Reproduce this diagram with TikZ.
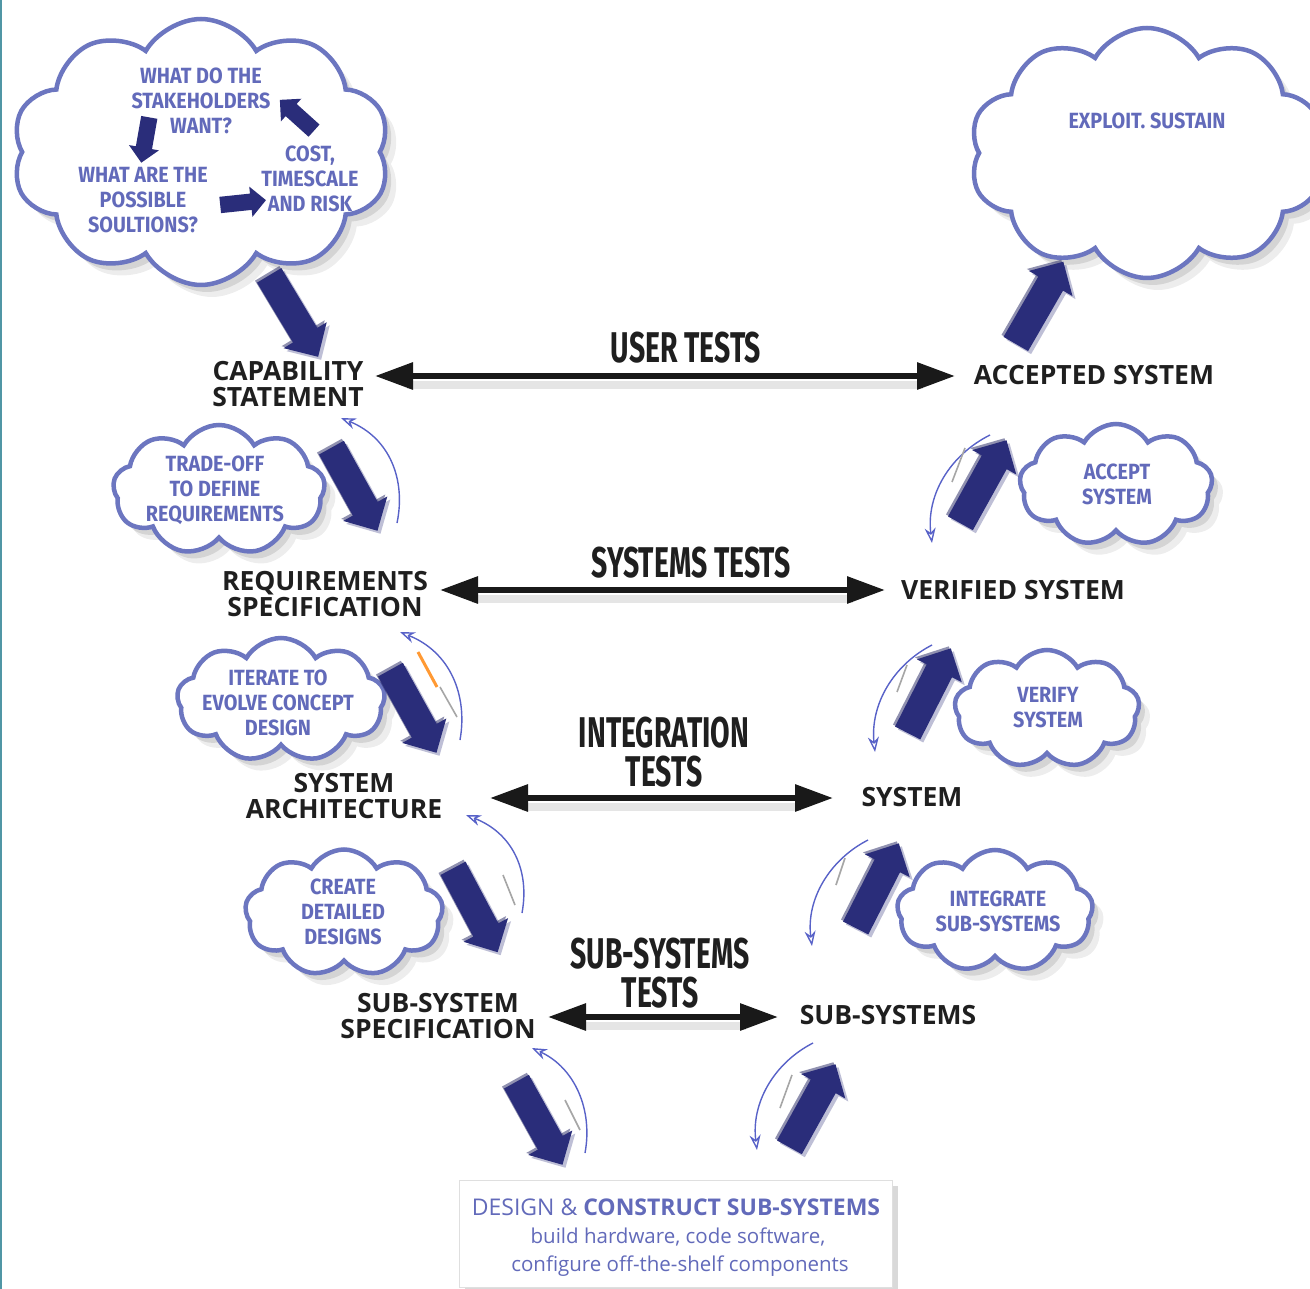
\documentclass[tikz,border=0pt]{standalone}
\usepackage{fontspec}
\setmainfont{Open Sans}
\newfontfamily\labfont{Open Sans}
\newfontfamily\headfont{Fira Sans}[FakeStretch=0.66]
\newfontfamily\cloudfnt{Fira Sans}[FakeStretch=0.9]
\usetikzlibrary{shapes.symbols,shapes.arrows,arrows.meta,shadows}
\definecolor{cloudblue}{RGB}{108,118,192}
\definecolor{ctext}{RGB}{98,106,186}
\definecolor{navyarr}{RGB}{42,45,122}
\definecolor{arcblue}{RGB}{88,98,200}
\definecolor{edgeteal}{RGB}{80,150,165}
\begin{document}
\begin{tikzpicture}[x=1pt,y=-1pt,
  softshadow/.style={drop shadow={shadow xshift=6pt,shadow yshift=-7pt,opacity=0.10,fill=black},
                     drop shadow={shadow xshift=11pt,shadow yshift=-12pt,opacity=0.07,fill=black}},
  cloudbox/.style={cloud, cloud puffs=10, cloud puff arc=120, cloud ignores aspect,
     draw=cloudblue, line width=4.5pt, fill=white, inner sep=0pt, softshadow},
  cloudtxt/.style={font=\cloudfnt\bfseries\fontsize{22}{25}\selectfont, text=ctext, align=center, inner sep=0pt},
  label/.style={font=\labfont\bfseries\fontsize{26.5}{26.5}\selectfont, text=black!88, align=center, inner sep=6pt},
  testlbl/.style={font=\headfont\bfseries\fontsize{43}{39}\selectfont, text=black!88, align=center, inner sep=0pt},
  dbl/.style={line width=6pt, black!90, {Triangle[length=38pt,width=26pt]}-{Triangle[length=38pt,width=26pt]}},
  dblshadow/.style={line width=8pt, black!10},
  bigarr/.style={single arrow, fill=navyarr, minimum height=95pt, minimum width=50pt,
     single arrow head extend=11pt, single arrow head indent=0pt, inner xsep=0pt, inner ysep=14pt,
     drop shadow={shadow xshift=3pt,shadow yshift=-3pt,opacity=0.3,fill=navyarr},
     drop shadow={shadow xshift=-2pt,shadow yshift=2pt,opacity=0.5,fill=navyarr!80!black}},
  smallarr/.style={single arrow, fill=navyarr, minimum height=46pt, minimum width=30pt,
     single arrow head extend=7pt, single arrow head indent=0pt, inner xsep=0pt, inner ysep=8pt},
  arcarr/.style={draw=arcblue, line width=1.4pt, -{Stealth[open,length=15pt,width=11pt]}},
  slash/.style={draw=gray!70, line width=1.6pt},
  boxtxt/.style={text=ctext, align=center, inner sep=0pt}
]
\useasboundingbox[fill=white] (0,0) rectangle (1310,1289);
\draw[edgeteal, line width=2.5pt] (1,0) -- (1,1289);

% ---------------- clouds ----------------
\node[cloudbox, minimum width=378pt, minimum height=266pt] (cTL) at (201,152) {};
\node[cloudbox, minimum width=355pt, minimum height=250pt] (cTR) at (1147,153) {};
\node[cloudbox, cloud puffs=9, minimum width=212pt, minimum height=130pt] (cTrade) at (219,490) {};
\node[cloudbox, cloud puffs=9, minimum width=208pt, minimum height=124pt] (cIter) at (281,700) {};
\node[cloudbox, cloud puffs=9, minimum width=198pt, minimum height=127pt] (cCreate) at (344,913) {};
\node[cloudbox, cloud puffs=9, minimum width=193pt, minimum height=122pt] (cAccept) at (1116,485) {};
\node[cloudbox, cloud puffs=9, minimum width=185pt, minimum height=118pt] (cVerify) at (1047,709) {};
\node[cloudbox, cloud puffs=9, minimum width=196pt, minimum height=122pt] (cInteg) at (995,911) {};

% cloud texts
\node[cloudtxt] (tWant) at (201,101) {WHAT DO THE\\STAKEHOLDERS\\WANT?};
\node[cloudtxt] (tSol) at (143,200) {WHAT ARE THE\\POSSIBLE\\SOULTIONS?};
\node[cloudtxt] (tCost) at (310,179) {COST,\\TIMESCALE\\AND RISK};
\node[cloudtxt] (tExp) at (1147,121) {EXPLOIT. SUSTAIN};
\node[cloudtxt] (tTrade) at (215,490) {TRADE-OFF\\TO DEFINE\\REQUIREMENTS};
\node[cloudtxt] (tIter) at (278,703) {ITERATE TO\\EVOLVE CONCEPT\\DESIGN};
\node[cloudtxt] (tCreate) at (343,912) {CREATE\\DETAILED\\DESIGNS};
\node[cloudtxt] (tAccept) at (1117,484) {ACCEPT\\SYSTEM};
\node[cloudtxt] (tVerify) at (1048,708) {VERIFY\\SYSTEM};
\node[cloudtxt] (tInteg) at (998,911) {INTEGRATE\\SUB-SYSTEMS};

% small arrows inside the top-left cloud
\node[smallarr, rotate=-100] (sa1) at (146,136) {};
\node[smallarr, rotate=6] (sa2) at (239,203) {};
\node[smallarr, rotate=138] (sa3) at (300,118) {};

% ---------------- labels ----------------
\node[label] (cap) at (288,384) {CAPABILITY\\STATEMENT};
\node[label] (acc) at (1094,375) {ACCEPTED SYSTEM};
\node[label] (req) at (325,594) {REQUIREMENTS\\SPECIFICATION};
\node[label] (ver) at (1013,590) {VERIFIED SYSTEM};
\node[label] (arch) at (344,796) {SYSTEM\\ARCHITECTURE};
\node[label] (sys) at (912,797) {SYSTEM};
\node[label] (subspec) at (438,1016) {SUB-SYSTEM\\SPECIFICATION};
\node[label] (subs) at (888,1015) {SUB-SYSTEMS};

\node[testlbl] (tUser) at (686,348) {USER TESTS};
\node[testlbl] (tSys) at (691,563) {SYSTEMS TESTS};
\node[testlbl] (tInt) at (664,752) {INTEGRATION\\TESTS};
\node[testlbl] (tSub) at (660,973) {SUB-SYSTEMS\\TESTS};

% ---------------- test arrows ----------------
\coordinate (u1) at (375,376);  \coordinate (u2) at (955,376);
\coordinate (s1) at (440,590);  \coordinate (s2) at (885,590);
\coordinate (i1) at (490,798);  \coordinate (i2) at (833,798);
\coordinate (b1) at (548,1017); \coordinate (b2) at (778,1017);
\foreach \a/\b in {u1/u2,s1/s2,i1/i2,b1/b2}{
  \draw[dblshadow] ([xshift=32pt,yshift=-9pt]\a) -- ([xshift=-32pt,yshift=-9pt]\b);
  \draw[dbl] (\a) -- (\b);
}

% ---------------- big arrows ----------------
\node[bigarr, rotate=-59] (ba1) at (290,310) {};
\node[bigarr, rotate=-61] (ba2) at (351,483) {};
\node[bigarr, rotate=-61] (ba3) at (410,705) {};
\node[bigarr, rotate=-62] (ba4) at (472,904) {};
\node[bigarr, rotate=-61] (ba5) at (536,1117) {};
\node[bigarr, rotate=61] (ba6) at (809,1112) {};
\node[bigarr, rotate=63] (ba7) at (874,892) {};
\node[bigarr, rotate=63] (ba8) at (926,697) {};
\node[bigarr, rotate=61] (ba9) at (980,488) {};
\node[bigarr, rotate=60] (ba10) at (1036,309) {};

% ---------------- thin return arcs ----------------
\coordinate (la1) at (397,523); \coordinate (la2) at (341,418);
\coordinate (lb1) at (460,740); \coordinate (lb2) at (400,632);
\coordinate (lc1) at (522,913); \coordinate (lc2) at (466,815);
\coordinate (ld1) at (585,1153); \coordinate (ld2) at (532,1048);
\draw[arcarr] (la1) .. controls (406,480) and (390,438) .. (la2);
\draw[arcarr] (lb1) .. controls (468,695) and (450,652) .. (lb2);
\draw[arcarr] (lc1) .. controls (530,870) and (512,833) .. (lc2);
\draw[arcarr] (ld1) .. controls (593,1110) and (575,1068) .. (ld2);

\coordinate (ra1) at (990,435); \coordinate (ra2) at (932,543);
\coordinate (rb1) at (932,645); \coordinate (rb2) at (875,752);
\coordinate (rc1) at (868,840); \coordinate (rc2) at (812,946);
\coordinate (rd1) at (813,1043); \coordinate (rd2) at (757,1150);
\draw[arcarr] (ra1) .. controls (950,455) and (926,495) .. (ra2);
\draw[arcarr] (rb1) .. controls (893,665) and (870,705) .. (rb2);
\draw[arcarr] (rc1) .. controls (829,860) and (806,900) .. (rc2);
\draw[arcarr] (rd1) .. controls (774,1063) and (751,1103) .. (rd2);

% small scanning marks beside the arcs
\draw[slash] (965,448) -- (952,482);
\draw[slash] (907,665) -- (897,692);
\draw[slash] (845,858) -- (836,885);
\draw[slash] (792,1075) -- (780,1108);
\draw[slash] (565,1100) -- (580,1130);
\draw[slash] (503,875) -- (515,905);
\draw[slash] (440,687) -- (457,717);
\draw[draw=orange!80, line width=3pt] (418,652) -- (437,687);

% ---------------- bottom box ----------------
\node[draw=gray!25, line width=0.8pt, fill=white, minimum width=433pt, minimum height=107pt,
      drop shadow={shadow xshift=5pt,shadow yshift=-5pt,opacity=0.15,fill=black}] (box) at (676,1234) {};
\node[boxtxt, font=\labfont\fontsize{23}{26}\selectfont] (bt1) at (676,1207)
   {DESIGN \& \textbf{CONSTRUCT SUB-SYSTEMS}};
\node[boxtxt, font=\labfont\fontsize{20.5}{26}\selectfont] (bt2) at (678,1237)
   {build hardware, code software,};
\node[boxtxt, font=\labfont\fontsize{20.5}{26}\selectfont] (bt3) at (680,1266)
   {configure off-the-shelf components};
\end{tikzpicture}
\end{document}
